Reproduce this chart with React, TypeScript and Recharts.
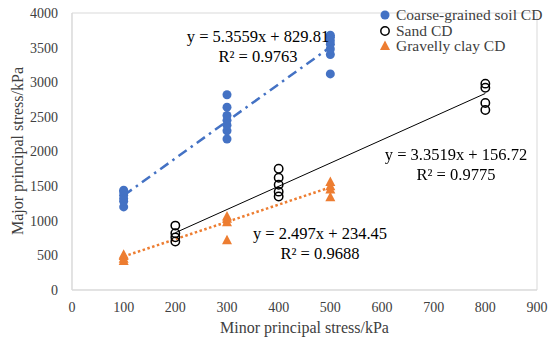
import React from "react"
import {
  ComposedChart,
  Scatter,
  Line,
  XAxis,
  YAxis,
  ReferenceArea,
} from "recharts"

// measured points (minor stress x, major stress y), kPa
const coarseX = [100, 100, 100, 100, 100, 100, 300, 300, 300, 300, 300, 300, 300, 500, 500, 500, 500, 500, 500, 500]
const coarseY = [1200, 1280, 1320, 1370, 1420, 1440, 2180, 2300, 2380, 2450, 2520, 2640, 2820, 3120, 3400, 3480, 3550, 3600, 3650, 3680]

const sandX = [200, 200, 200, 200, 400, 400, 400, 400, 400, 800, 800, 800, 800]
const sandY = [700, 760, 820, 930, 1350, 1420, 1520, 1620, 1750, 2600, 2700, 2920, 2980]

const clayX = [100, 100, 100, 100, 300, 300, 300, 300, 500, 500, 500, 500]
const clayY = [420, 450, 490, 510, 720, 980, 1030, 1060, 1340, 1450, 1500, 1560]

// linear trendlines: [slope, intercept, xFrom, xTo]
const coarseFit = [5.3559, 829.81, 100, 500]
const sandFit = [3.3519, 156.72, 200, 800]
const clayFit = [2.497, 234.45, 100, 500]

const xTicks = [0, 100, 200, 300, 400, 500, 600, 700, 800, 900]
const yTicks = [0, 500, 1000, 1500, 2000, 2500, 3000, 3500, 4000]

const BLUE = "#4472C4"
const ORANGE = "#ED7D31"
const FONT = "'Liberation Serif', serif"

const pts = (xs: number[], ys: number[]) => xs.map((x, i) => ({ x, y: ys[i] }))
const fitLine = (f: number[]) => [
  { x: f[2], y: f[0] * f[2] + f[1] },
  { x: f[3], y: f[0] * f[3] + f[1] },
]

const Dot = (p: any) => <circle cx={p.cx} cy={p.cy} r={4.5} fill={BLUE} />
const Ring = (p: any) => <circle cx={p.cx} cy={p.cy} r={4.2} fill="none" stroke="#000" strokeWidth={1.5} />
const Tri = (p: any) => (
  <path d={`M${p.cx},${p.cy - 5.5} L${p.cx + 5},${p.cy + 4} L${p.cx - 5},${p.cy + 4} Z`} fill={ORANGE} />
)

const eqs = [
  { a: "y = 5.3559x + 829.81", b: "R² = 0.9763", left: 258, top: 27 },
  { a: "y = 3.3519x + 156.72", b: "R² = 0.9775", left: 456, top: 145 },
  { a: "y = 2.497x + 234.45", b: "R² = 0.9688", left: 320, top: 224 },
]

const legendItems = [
  { name: "Coarse-grained soil CD", icon: <circle cx={6} cy={8} r={4.5} fill={BLUE} /> },
  { name: "Sand CD", icon: <circle cx={6} cy={8} r={4.2} fill="none" stroke="#000" strokeWidth={1.5} /> },
  { name: "Gravelly clay CD", icon: <path d="M6,2.5 L11,12 L1,12 Z" fill={ORANGE} /> },
]

export default function App() {
  const tick = { fill: "#404040", fontSize: 14, fontFamily: FONT }
  const titleStyle = { fontFamily: FONT, fontSize: 16, fill: "#404040" }
  return (
    <div style={{ position: "fixed", left: 0, top: 0, width: 550, height: 340, background: "#fff", fontFamily: FONT }}>
      <ComposedChart width={550} height={340} margin={{ top: 13, right: 13, bottom: 0, left: 0 }}>
        <XAxis
          type="number"
          dataKey="x"
          domain={[0, 900]}
          ticks={xTicks}
          tickLine={false}
          axisLine={{ stroke: "#d9d9d9" }}
          tick={tick}
          tickMargin={6}
          height={50}
          label={{ value: "Minor principal stress/kPa", position: "insideBottom", offset: 7, style: titleStyle }}
        />
        <YAxis
          type="number"
          dataKey="y"
          domain={[0, 4000]}
          ticks={yTicks}
          tickLine={false}
          axisLine={{ stroke: "#d9d9d9" }}
          tick={tick}
          tickMargin={8}
          width={72}
        />
        <ReferenceArea x1={0} x2={900} y1={0} y2={4000} fill="none" stroke="#d9d9d9" strokeWidth={1} />

        <Line data={fitLine(coarseFit)} dataKey="y" type="linear" stroke={BLUE} strokeWidth={2.5} strokeDasharray="10 5 2.5 5" dot={false} legendType="none" isAnimationActive={false} />
        <Line data={fitLine(sandFit)} dataKey="y" type="linear" stroke="#000" strokeWidth={1} dot={false} legendType="none" isAnimationActive={false} />
        <Line data={fitLine(clayFit)} dataKey="y" type="linear" stroke={ORANGE} strokeWidth={2.5} strokeDasharray="2.5 2.5" dot={false} legendType="none" isAnimationActive={false} />

        <Scatter name="Coarse-grained soil CD" data={pts(coarseX, coarseY)} shape={Dot} isAnimationActive={false} />
        <Scatter name="Sand CD" data={pts(sandX, sandY)} shape={Ring} isAnimationActive={false} />
        <Scatter name="Gravelly clay CD" data={pts(clayX, clayY)} shape={Tri} isAnimationActive={false} />
      </ComposedChart>

      {/* y-axis title */}
      <div style={{ position: "absolute", left: 18, top: 151, width: 0, height: 0 }}>
        <div style={{ position: "absolute", left: -120, top: -10, width: 240, textAlign: "center", transform: "rotate(-90deg)", fontSize: 16, color: "#404040", lineHeight: "20px", whiteSpace: "nowrap" }}>
          Major principal stress/kPa
        </div>
      </div>

      <div style={{ position: "absolute", left: 379, top: 7, fontSize: 15.5, color: "#404040", lineHeight: "15.5px" }}>
        {legendItems.map((it) => (
          <div key={it.name} style={{ display: "flex", alignItems: "center" }}>
            <svg width={14} height={15} style={{ marginRight: 3 }}>{it.icon}</svg>
            <span>{it.name}</span>
          </div>
        ))}
      </div>

      {eqs.map((e) => (
        <div key={e.a} style={{ position: "absolute", left: e.left - 110, top: e.top, width: 220, textAlign: "center", fontSize: 16.5, color: "#000", lineHeight: "20px" }}>
          <div>{e.a}</div>
          <div>{e.b}</div>
        </div>
      ))}
    </div>
  )
}
